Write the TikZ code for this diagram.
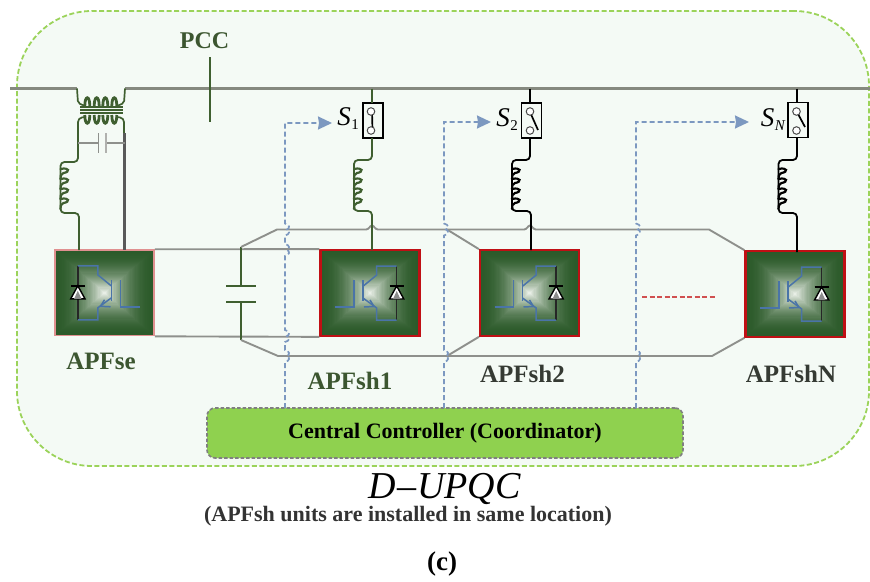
\documentclass[tikz,border=0pt]{standalone}
\usepackage{fontspec}
\setmainfont{Liberation Serif}
\usetikzlibrary{arrows.meta}
\definecolor{panelfill}{HTML}{F4FAF5}
\definecolor{paneledge}{HTML}{9BD35A}
\definecolor{busgrey}{HTML}{85897F}
\definecolor{railgrey}{HTML}{8E908C}
\definecolor{wiregreen}{HTML}{3F5F30}
\definecolor{sigblue}{HTML}{7C98C0}
\definecolor{igbtblue}{HTML}{4A74A8}
\definecolor{apfdark}{HTML}{2C5A2A}
\definecolor{apflight}{HTML}{F2F6F0}
\definecolor{ctrlgreen}{HTML}{8FD14F}
\definecolor{labelgreen}{HTML}{3C5630}
\definecolor{labelgrey}{HTML}{353A33}
\definecolor{redbox}{HTML}{C00F14}
\definecolor{pinkbox}{HTML}{E09090}
\definecolor{dashred}{HTML}{D05050}
\newcommand{\hopv}[2]{-- (#1,#2+6) .. controls (#1+5,#2+5) and (#1+5,#2+1) .. (#1+2,#2) .. controls (#1+5,#2-1) and (#1+5,#2-5) .. (#1,#2-6)}
\newcommand{\hoph}[2]{-- (#1-6,#2) .. controls (#1-3,#2) and (#1-2,#2-4) .. (#1,#2-4) .. controls (#1+2,#2-4) and (#1+3,#2) .. (#1+6,#2)}
\newcommand{\swtext}[1]{\textit{S}\kern.5pt\raisebox{-4pt}{\fontsize{15}{15}\selectfont #1}}
\tikzset{
  x=1pt,y=-1pt,
  bus/.style={draw=busgrey,line width=3pt},
  rail/.style={draw=railgrey,line width=1.9pt},
  wire/.style={line width=1.8pt},
  sig/.style={draw=sigblue,line width=1.7pt,dash pattern=on 5pt off 3pt,
     -{Stealth[length=14pt,width=13pt,inset=1pt]}},
  apf/.style={draw,rectangle,minimum width=99pt,minimum height=85.5pt,inner sep=0pt},
  apflabel/.style={font=\bfseries\fontsize{25}{25}\selectfont,text=labelgreen,inner sep=0pt},
  swbox/.style={draw=black,fill=panelfill,line width=1.8pt,minimum width=20pt,minimum height=35pt,inner sep=0pt},
  swlabel/.style={font=\itshape\fontsize{27}{27}\selectfont,inner sep=0pt},
  swcircle/.style={draw=black!70,fill=white,line width=1pt},
  pics/gradbox/.style={code={
    \foreach \k in {0,...,39}{
      \pgfmathsetmacro\t{\k/40}
      \pgfmathsetmacro\p{100*\t*\t}
      \fill[apflight!\p!apfdark] ({-49.5*(1-\t)},{-42.75*(1-\t)}) rectangle ({49.5*(1-\t)},{42.75*(1-\t)});
    }
    \draw[black!85,line width=1.5pt] (26.7,-27) -- (26.7,27);
    \draw[igbtblue,line width=1.5pt] (26.7,-27) -- (6.7,-27) -- (6.7,-18) -- (-6.7,-7);
    \draw[igbtblue,line width=1.5pt] (-7,-13) -- (-7,8);
    \draw[igbtblue,line width=1.5pt] (-35,14) -- (-16,14) -- (-16,-13);
    \draw[igbtblue,line width=1.5pt] (-7,5) -- (6.7,15) -- (6.7,27) -- (26.7,27);
    \draw[igbtblue,line width=1.5pt] (-6,14) -- (4,13.5) -- (0,7);
    \draw[black,fill=white,line width=1.4pt] (26.7,-7) -- (19.5,6) -- (33.8,6) -- cycle;
    \fill[black!45] (26.7,-2) -- (23,6) -- (30.4,6) -- cycle;
    \draw[black,line width=1.7pt] (19.5,-7) -- (33.8,-7);
  }},
  pics/coilv/.style={code={
    \foreach \k in {0,1,2,3}{
      \draw[line width=2.2pt,line cap=round,pic actions]
        (0,{\k*10}) .. controls (9,{\k*10-2}) and (10,{\k*10+3}) .. (3,{\k*10+4})
        .. controls (0,{\k*10+5}) and (0,{\k*10+7}) .. (0,{\k*10+10});
    }
  }},
}
\begin{document}
\begin{tikzpicture}
\useasboundingbox (0,0) rectangle (870,581);
\node[draw=paneledge,fill=panelfill,line width=1.8pt,dash pattern=on 5pt off 2.5pt,
  rounded corners=75pt,minimum width=852pt,minimum height=455pt,inner sep=0pt] (panel) at (443,238.5) {};

% named points
\coordinate (busL) at (10,88.5);
\coordinate (busR) at (870,88.5);
\coordinate (tapL) at (77,88.5);
\coordinate (tapR) at (125,88.5);
\coordinate (tick1) at (210,57);
\coordinate (tick2) at (210,122);
\coordinate (capT) at (241,247);
\coordinate (capB) at (241,340);
\coordinate (capPT) at (241,286);
\coordinate (capPB) at (241,302);
\coordinate (busS1) at (372,88.5);
\coordinate (busS2) at (530,88.5);
\coordinate (busSN) at (797,88.5);

% bus and PCC
\draw[bus] (busL) -- (tapL);
\draw[bus] (tapR) -- (busR);
\draw[draw=wiregreen,line width=2.6pt] (tick1) -- (tick2);
\node[font=\bfseries\fontsize{24}{24}\selectfont,text=labelgreen,inner sep=0pt] (pcc) at (204.5,41) {PCC};

% series transformer
\draw[wiregreen,line width=1.7pt,rounded corners=2pt] (tapL) -- (78,103) -- (85,106);
\draw[wiregreen,line width=1.7pt,rounded corners=2pt] (tapR) -- (124,103) -- (117,106);
\foreach \cx in {87.3,96.7,105.3,114.3}{
  \draw[wiregreen,line width=2.8pt] (\cx-2.5,106) .. controls (\cx-2.5,95) and (\cx+2.5,95) .. (\cx+2.5,106);
  \draw[wiregreen,line width=2.8pt] (\cx-2.5,115) .. controls (\cx-2.5,126) and (\cx+2.5,126) .. (\cx+2.5,115);
}
\foreach \yy in {107,110,113}{
  \draw[wiregreen,line width=1.2pt] (80,\yy) -- (123,\yy);
}
\draw[wiregreen,line width=1.7pt,rounded corners=4pt] (85,117) -- (78,118) -- (78,133);
\draw[wiregreen,line width=1.7pt,rounded corners=4pt] (117,117) -- (124,118) -- (124,133);

% converters
\pic[xscale=-1] at (104.5,292.8) {gradbox};
\pic at (370,293) {gradbox};
\pic at (529.5,293) {gradbox};
\pic at (795,294) {gradbox};
\node[apf,draw=pinkbox,line width=1.6pt] (se) at (104.5,292.8) {};
\node[apf,draw=redbox,line width=2.2pt] (sh1) at (370,293) {};
\node[apf,draw=redbox,line width=2.2pt] (sh2) at (529.5,293) {};
\node[apf,draw=redbox,line width=2.2pt] (shN) at (795,294) {};

% series side wiring
\draw[wiregreen,wire,rounded corners=4pt] (78,133) -- (78,162) -- (60.5,162) -- (60.5,213) -- (79,213) -- (79,250);
\draw[black!65,line width=2.1pt] (124.5,133) -- (124.5,250);
\pic[wiregreen] at (60.5,169) {coilv};
\draw[railgrey,line width=1.2pt] (78,143) -- (98,143);
\draw[railgrey,line width=1.2pt] (106,143) -- (124.5,143);
\draw[railgrey,line width=1.6pt] (98.5,133) -- (98.5,153);
\draw[railgrey!70,line width=1.6pt] (106,133) -- (106,153);

% DC link
\draw[rail] (se.north east) -- (sh1.north west);
\draw[rail] (se.south east) -- (sh1.south west);
\draw[wiregreen,wire] (capT) -- (capPT);
\draw[wiregreen,wire] (capPB) -- (capB);
\draw[wiregreen,line width=2.6pt] (226,286) -- (256,286);
\draw[wiregreen,line width=2.6pt] (226,302) -- (256,302);
\draw[rail] (capT) -- (277,229.5) \hoph{372}{229.5} \hoph{530}{229.5} -- (709,229.5) -- (shN.north west);
\draw[rail] (capB) -- (278,356) -- (712,356) -- (shN.south west);
\draw[rail] (447,229.5) -- (sh2.north west);
\draw[rail] (447,356) -- (sh2.south west);
\draw[dashred,line width=1.7pt,dash pattern=on 5pt off 2.5pt] (642,297) -- (716,297);

% controller
\node[draw=black!50,fill=ctrlgreen,line width=1.6pt,dash pattern=on 3.5pt off 2pt,rounded corners=8pt,
  minimum width=476pt,minimum height=50pt,inner sep=0pt,
  font=\bfseries\fontsize{22}{22}\selectfont] (ctrl) at (445,433) {\raisebox{-1.5pt}{Central Controller (Coordinator)}};

% switches
\node[swbox] (sw1) at (373,120.5) {};
\node[swbox] (sw2) at (531.5,120.5) {};
\node[swbox] (swN) at (798,120) {};
\node[swlabel,anchor=east] (s1) at (359,119) {\swtext{\textup{1}}};
\node[swlabel,anchor=east] (s2) at (518,120) {\swtext{\textup{2}}};
\node[swlabel,anchor=east] (sN) at (785,120) {\swtext{\textit{N}}};

% shunt branches
\draw[wiregreen,wire] (busS1) -- (372,103);
\draw[wiregreen,wire,rounded corners=4pt] (372,138) -- (372,160) -- (354,160) -- (354,211) -- (372,211) -- (372,250);
\draw[black,wire] (busS2) -- (530,103);
\draw[black,wire,rounded corners=4pt] (530,138) -- (530,160) -- (512,160) -- (512,211) -- (531,211) -- (531,250);
\draw[black,wire] (busSN) -- (797,103);
\draw[black,wire,rounded corners=4pt] (797,138) -- (797,160) -- (778.5,160) -- (778.5,213) -- (797,213) -- (797,252);
\pic[wiregreen] at (354,169) {coilv};
\pic[black] at (512,169) {coilv};
\pic[black] at (778.5,169) {coilv};

% switch contacts
\draw[black,line width=1.7pt] (372,111) -- (372.5,130);
\draw[black,line width=1.7pt] (530,112) -- (538,130);
\draw[black,line width=1.7pt] (797,112) -- (805,127);
\foreach \cx in {371,530,796.5}{
  \draw[swcircle] (\cx,111.5) circle (3.8);
  \draw[swcircle] (\cx,130.5) circle (3.8);
}

% signal lines
\draw[sig] (285,408) \hopv{285}{356} \hopv{285}{336} \hopv{285}{250} \hopv{285}{229.5} -- (285,123) -- (332,123);
\draw[sig] (444,408) \hopv{444}{356} \hopv{444}{229.5} -- (444,122) -- (491,122);
\draw[sig] (636,408) \hopv{636}{356} \hopv{636}{229.5} -- (636,122) -- (749,122);

% labels
\node[apflabel] (lse) at (101,361) {APFse};
\node[apflabel] (lsh1) at (350,381) {APFsh1};
\node[apflabel,text=labelgrey] (lsh2) at (522.5,374) {APFsh2};
\node[apflabel,text=labelgrey] (lshN) at (791,374) {APFshN};
\node[font=\fontsize{38}{38}\selectfont,inner sep=0pt] (title) at (445,489) {\textit{D}\kern1pt--\kern1pt\textit{UPQC}};
\node[font=\bfseries\fontsize{22}{22}\selectfont,text=black!80,inner sep=0pt] (sub) at (408,516) {(APFsh units are installed in same location)};
\node[font=\bfseries\fontsize{27}{27}\selectfont,inner sep=0pt] (cap) at (442,564) {(c)};
\end{tikzpicture}
\end{document}
